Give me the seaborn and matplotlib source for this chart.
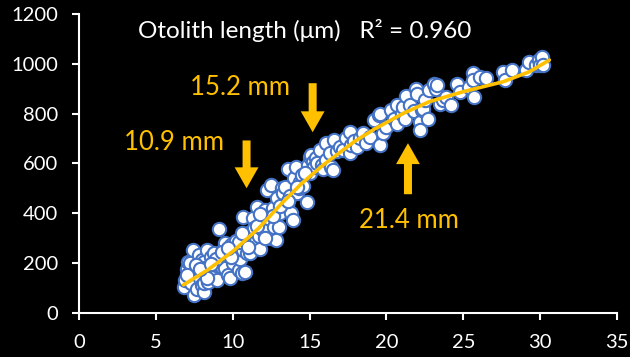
import matplotlib
matplotlib.use("Agg")
import matplotlib.pyplot as plt
from matplotlib.patches import FancyArrow
import seaborn as sns
import pandas as pd

# Standard length (mm) and otolith length (µm) of individual fish
standard_length = [
    6.8, 6.9, 7.0, 7.1, 7.2, 7.2, 7.3, 7.4, 7.5, 7.6, 7.7, 7.8, 7.9, 8.0, 8.0,
    8.1, 8.1, 8.1, 8.2, 8.3, 8.4, 8.5, 8.6, 8.7, 8.8, 8.9, 9.0, 9.1, 9.2, 9.3,
    9.4, 9.5, 9.5, 9.6, 9.7, 9.8, 9.9, 10.0, 10.0, 10.1, 10.2, 10.3, 10.4, 10.5,
    10.6, 10.7, 10.7, 10.8, 10.8, 10.9, 11.0, 11.1, 11.2, 11.3, 11.4, 11.5, 11.6,
    11.7, 11.8, 11.9, 12.0, 12.1, 12.2, 12.3, 12.4, 12.5, 12.6, 12.7, 12.8, 12.9,
    13.0, 13.1, 13.2, 13.3, 13.4, 13.5, 13.6, 13.7, 13.8, 13.9, 14.0, 14.1, 14.2,
    14.3, 14.4, 14.5, 14.6, 14.8, 14.9, 15.0, 15.0, 15.1, 15.2, 15.3, 15.4, 15.5,
    15.7, 15.8, 15.9, 16.1, 16.1, 16.3, 16.4, 16.5, 16.6, 16.8, 17.0, 17.2, 17.4,
    17.6, 17.6, 17.7, 17.9, 18.1, 18.3, 18.5, 18.7, 18.9, 19.2, 19.5, 19.6, 19.6,
    19.8, 20.0, 20.3, 20.5, 20.7, 20.7, 21.0, 21.1, 21.2, 21.3, 21.5, 21.8, 21.9,
    22.0, 22.2, 22.2, 22.3, 22.4, 22.5, 22.7, 22.8, 23.1, 23.2, 23.3, 23.5, 23.7,
    23.9, 24.2, 24.6, 24.8, 25.4, 25.6, 25.6, 25.7, 26.1, 26.5, 27.6, 27.7, 28.2,
    29.1, 29.3, 29.7, 29.9, 30.0, 30.1, 30.2,
    7.0, 7.6, 8.3, 8.9, 9.3, 9.9, 10.4, 11.0, 11.6, 12.1, 12.6, 13.1, 13.6, 14.2,
    14.7, 7.9, 8.6, 9.7, 10.6, 11.8,
]
otolith_length = [
    104, 130, 175, 205, 151, 198, 120, 252, 71, 160, 95, 230, 140, 211, 111,
    84, 118, 205, 180, 250, 124, 150, 225, 165, 240, 190, 130, 335, 210, 185,
    250, 278, 178, 230, 150, 138, 270, 200, 265, 230, 290, 258, 171, 215,
    158, 252, 385, 165, 300, 240, 319, 238, 270, 379, 340, 290, 425,
    310, 255, 360, 332, 412, 492, 380, 300, 512, 420, 345, 292, 460,
    345, 400, 500, 480, 506, 430, 579, 470, 399, 372, 540, 586, 479,
    500, 526, 555, 510, 445, 593, 560, 626, 633, 606, 586, 620, 600,
    653, 593, 579, 613, 680, 640, 586, 573, 693, 650, 665, 653, 700,
    640, 726, 673, 690, 666, 700, 720, 680, 706, 773, 793, 673, 800,
    720, 746, 813, 780, 760, 834, 800, 827, 780, 870, 834, 810, 900,
    880, 767, 733, 814, 820, 854, 780, 894, 920, 900, 914, 840, 854,
    867, 834, 920, 887, 907, 961, 934, 867, 947, 941, 967, 934, 974,
    974, 1007, 994, 1014, 994, 1027, 994,
    150, 190, 140, 215, 245, 225, 285, 265, 350, 300, 390, 430, 450, 505,
    560, 175, 195, 260, 320, 395,
]

# Fitted growth curve
fit_length = [6.8, 8.4, 10.0, 11.7, 13.2, 14.5, 15.9, 17.9, 19.2, 21.1, 22.8,
              25.0, 27.6, 29.3, 30.6]
fit_otolith = [112, 173, 246, 340, 440, 520, 594, 687, 737, 801, 848,
               888, 928, 968, 1015]

# Breakpoints marked on the curve
break_sizes = [10.9, 15.2, 21.4]
break_labels = ["10.9 mm", "15.2 mm", "21.4 mm"]

title_text = "Otolith length (\u03bcm)   R\u00b2 = 0.960"

x_ticks = [0, 5, 10, 15, 20, 25, 30, 35]
y_ticks = [0, 200, 400, 600, 800, 1000, 1200]

ORANGE = "#FFC000"
BLUE = "#4472C4"

sns.set_theme(style="ticks")
plt.rcParams["font.family"] = ["Lato", "DejaVu Sans"]

fig = plt.figure(figsize=(6.3, 3.57), dpi=100, facecolor="black")
ax = fig.add_axes([0.1254, 0.1241, 0.854, 0.8367])
ax.set_facecolor("black")

points = pd.DataFrame({"sl": standard_length, "ol": otolith_length})
curve = pd.DataFrame({"sl": fit_length, "ol": fit_otolith})

sns.scatterplot(data=points, x="sl", y="ol", ax=ax, s=92, color="white",
                edgecolor=BLUE, linewidth=1.5, zorder=2, legend=False)
sns.lineplot(data=curve, x="sl", y="ol", ax=ax, color=ORANGE, linewidth=2.6,
             zorder=3, sort=True, estimator=None)

ax.set_xlim(0, 35)
ax.set_ylim(0, 1200)
ax.set_xticks(x_ticks)
ax.set_yticks(y_ticks)
ax.set_xlabel("")
ax.set_ylabel("")

for side in ("top", "right"):
    ax.spines[side].set_visible(False)
for side in ("left", "bottom"):
    ax.spines[side].set_color("white")
    ax.spines[side].set_linewidth(1.5)
ax.tick_params(axis="both", colors="white", direction="out", length=5,
               width=1.5, labelsize=14.5, pad=10)

# Arrows pointing at each breakpoint on the curve
arrow_spans = [(692, 500), (922, 725), (476, 681)]
for xb, (y0, y1) in zip(break_sizes, arrow_spans):
    ax.add_patch(FancyArrow(xb, y0, 0, y1 - y0, width=0.52, head_width=1.55,
                            head_length=84, length_includes_head=True,
                            color=ORANGE, zorder=4, linewidth=0))

label_pos = [(6.15, 685), (10.47, 906), (21.44, 372)]
for (lx, ly), txt in zip(label_pos, break_labels):
    ax.text(lx, ly, txt, color=ORANGE, fontsize=18.5, ha="center", va="center")

ax.text(3.84, 1134, title_text, color="white", fontsize=17.5, ha="left",
        va="center")

fig.savefig("out.png", dpi=100, facecolor="black")
